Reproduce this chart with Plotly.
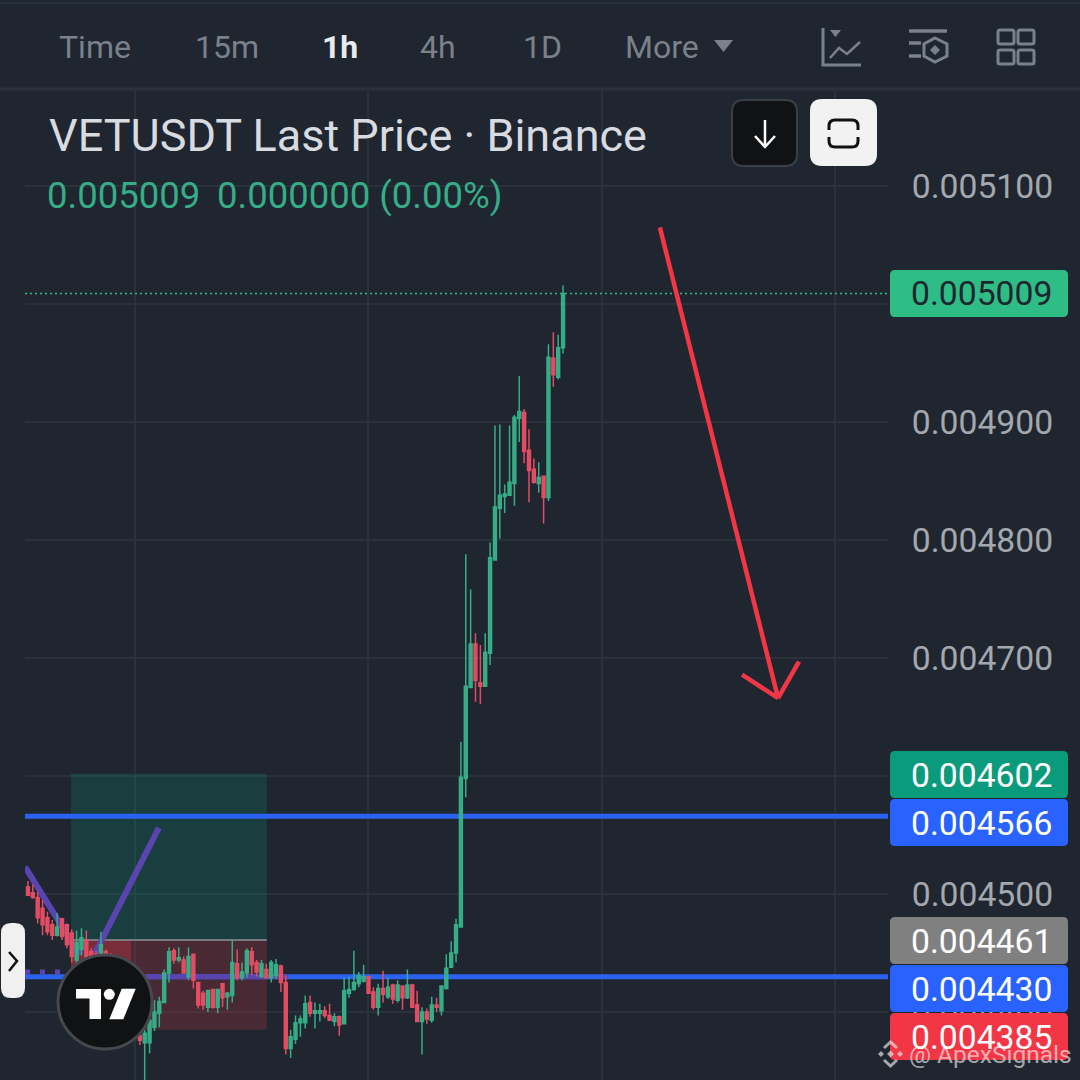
import numpy as np
import plotly.graph_objects as go

# prices in millionths (candles under the logo are estimates)
opens = [4506, 4501, 4497, 4488, 4480, 4474, 4465, 4479, 4474, 4467, 4444, 4453, 4461, 4451, 4449, 4440, 4451,
         4448, 4436, 4420, 4408, 4394, 4402, 4380, 4374, 4374, 4387, 4399, 4408, 4433, 4452, 4444, 4444, 4430,
         4449, 4425, 4416, 4404, 4419, 4404, 4424, 4413, 4414, 4441, 4429, 4433, 4451, 4442, 4430, 4436, 4429,
         4431, 4439, 4425, 4369, 4377, 4391, 4391, 4408, 4399, 4399, 4401, 4397, 4392, 4396, 4390, 4416, 4419,
         4424, 4426, 4430, 4417, 4404, 4420, 4413, 4423, 4410, 4422, 4412, 4423, 4406, 4392, 4400, 4393, 4406,
         4401, 4420, 4438, 4450, 4472, 4598, 4675, 4712, 4679, 4676, 4704, 4783, 4827, 4837, 4838, 4848, 4903,
         4908, 4876, 4860, 4848, 4854, 4836, 4954, 4938, 4963]
highs = [4511, 4508, 4502, 4495, 4485, 4478, 4484, 4480, 4475, 4470, 4469, 4471, 4469, 4454, 4452, 4468, 4453,
         4450, 4440, 4424, 4412, 4406, 4406, 4384, 4385, 4394, 4410, 4413, 4436, 4455, 4454, 4455, 4447, 4455,
         4449, 4425, 4418, 4419, 4419, 4419, 4424, 4417, 4461, 4453, 4442, 4454, 4455, 4444, 4444, 4441, 4444,
         4445, 4440, 4431, 4385, 4397, 4397, 4414, 4414, 4408, 4407, 4405, 4407, 4399, 4397, 4429, 4430, 4452,
         4434, 4440, 4431, 4421, 4424, 4435, 4429, 4424, 4427, 4422, 4436, 4424, 4418, 4404, 4403, 4413, 4412,
         4422, 4449, 4460, 4479, 4629, 4788, 4758, 4721, 4711, 4721, 4798, 4897, 4898, 4847, 4897, 4906, 4939,
         4911, 4894, 4869, 4866, 4854, 4966, 4976, 4974, 5016]
lows = [4499, 4496, 4475, 4465, 4465, 4461, 4464, 4461, 4454, 4442, 4440, 4448, 4442, 4444, 4430, 4436, 4440,
        4430, 4412, 4400, 4388, 4386, 4380, 4372, 4342, 4365, 4384, 4387, 4408, 4425, 4441, 4442, 4433, 4427,
        4420, 4403, 4402, 4400, 4403, 4399, 4404, 4402, 4408, 4427, 4427, 4429, 4431, 4430, 4429, 4429, 4425,
        4428, 4417, 4364, 4361, 4373, 4379, 4386, 4396, 4386, 4392, 4395, 4393, 4388, 4380, 4390, 4412, 4418,
        4421, 4425, 4416, 4402, 4397, 4408, 4411, 4407, 4408, 4402, 4411, 4404, 4392, 4364, 4390, 4391, 4400,
        4397, 4419, 4438, 4442, 4472, 4582, 4675, 4663, 4661, 4676, 4694, 4783, 4801, 4823, 4838, 4829, 4883,
        4865, 4832, 4848, 4840, 4814, 4833, 4930, 4936, 4958]
closes = [4499, 4497, 4480, 4474, 4468, 4465, 4472, 4464, 4457, 4447, 4459, 4463, 4447, 4447, 4436, 4457, 4448,
          4436, 4420, 4408, 4394, 4402, 4386, 4376, 4382, 4393, 4400, 4409, 4433, 4451, 4444, 4446, 4433, 4447,
          4427, 4406, 4406, 4418, 4404, 4419, 4412, 4416, 4442, 4429, 4434, 4452, 4440, 4434, 4441, 4429, 4442,
          4440, 4425, 4369, 4379, 4391, 4394, 4407, 4399, 4401, 4401, 4397, 4393, 4396, 4389, 4418, 4419, 4425,
          4431, 4430, 4416, 4404, 4420, 4415, 4421, 4411, 4423, 4412, 4423, 4404, 4392, 4400, 4394, 4406, 4404,
          4422, 4437, 4450, 4474, 4599, 4676, 4712, 4681, 4676, 4705, 4785, 4828, 4838, 4839, 4849, 4904, 4909,
          4875, 4859, 4849, 4853, 4836, 4955, 4940, 4963, 5009]

# axis ticks and tool levels
price_ticks = [0.0051, 0.0050, 0.0049, 0.0048, 0.0047, 0.0046, 0.0045, 0.0044]
time_grid = [22, 70, 118, 166]
blue_levels = [0.004566, 0.004430]
last_price = 0.005009
target_top = 0.004602
entry_price = 0.004461
stop_price = 0.004385
trade_start = 8.85
trade_end = 49.1
tabs = ["Time", "15m", "1h", "4h", "1D", "More"]
price_labels = ["0.005009", "0.004602", "0.004566", "0.004461", "0.004430", "0.004385"]

# drawn tools, (candle index, price)
arrow_x = [129.9, 154.2]
arrow_y = [0.005065, 0.004666]
arrow_head_x = [146.8, 154.2, 158.5]
arrow_head_y = [0.004686, 0.004666, 0.004697]
trend_down_x = [-0.61, 10.7]
trend_down_y = [0.004523, 0.004448]
trend_up_x = [13.8, 26.9]
trend_up_y = [0.004450, 0.004556]

X_RANGE = [-0.61, 176.8]
BG = "#1f2630"
GRID = "#2a313a"
GREEN = "#36ad86"
RED = "#e34d63"
BLUE = "#2b63f0"
PURPLE = "#5a45b0"
MUTED = "#7b818b"
FONT = "Roboto"

WIDTH = 1080


def px(x):
    return x / WIDTH


def py(y):
    return 1 - y / WIDTH


def path(points, close=False):
    s = "M " + " L ".join(f"{px(x)} {py(y)}" for x, y in points)
    return s + " Z" if close else s


def round_rect(x0, y0, x1, y1, r):
    return (f"M {px(x0 + r)} {py(y0)} L {px(x1 - r)} {py(y0)} Q {px(x1)} {py(y0)} {px(x1)} {py(y0 + r)} "
            f"L {px(x1)} {py(y1 - r)} Q {px(x1)} {py(y1)} {px(x1 - r)} {py(y1)} "
            f"L {px(x0 + r)} {py(y1)} Q {px(x0)} {py(y1)} {px(x0)} {py(y1 - r)} "
            f"L {px(x0)} {py(y0 + r)} Q {px(x0)} {py(y0)} {px(x0 + r)} {py(y0)} Z")


def paper_shape(d, fill="rgba(0,0,0,0)", line=None, w=0):
    return dict(type="path", xref="paper", yref="paper", path=d, fillcolor=fill, layer="above",
                line=dict(color=line or "rgba(0,0,0,0)", width=w))


def tool_line(x, y, color, w, dash="solid", layer="between"):
    return dict(type="line", xref="x", yref="y", x0=x[0], x1=x[1], y0=y[0], y1=y[1], layer=layer,
                line=dict(color=color, width=w, dash=dash))


def text(s, x, y, size, color, xanchor="left", weight=None):
    return dict(text=s, xref="paper", yref="paper", x=px(x), y=py(y), xanchor=xanchor, yanchor="middle",
                showarrow=False, borderpad=0, font=dict(family=FONT, size=size, color=color, weight=weight))


fig = go.Figure()

fig.add_trace(go.Candlestick(
    x=list(range(len(opens))),
    open=np.array(opens) / 1e6,
    high=np.array(highs) / 1e6,
    low=np.array(lows) / 1e6,
    close=np.array(closes) / 1e6,
    increasing=dict(line=dict(color=GREEN, width=1.5), fillcolor=GREEN),
    decreasing=dict(line=dict(color=RED, width=1.5), fillcolor=RED),
    whiskerwidth=0,
    showlegend=False,
))

shapes = []

# long position box
shapes.append(dict(type="rect", xref="x", yref="y", x0=trade_start, x1=trade_end, y0=entry_price, y1=target_top,
                   fillcolor="rgba(8,153,129,0.2)", line_width=0, layer="between"))
shapes.append(dict(type="rect", xref="x", yref="y", x0=trade_start, x1=trade_end, y0=stop_price, y1=entry_price,
                   fillcolor="rgba(242,54,69,0.2)", line_width=0, layer="between"))
shapes.append(dict(type="rect", xref="x", yref="y", x0=trade_start, x1=21.2, y0=blue_levels[1], y1=entry_price,
                   fillcolor="rgba(242,54,69,0.3)", line_width=0, layer="between"))
shapes.append(tool_line([trade_start, trade_end], [entry_price, entry_price], "#777b80", 2))

# price levels and tools
for level in blue_levels:
    shapes.append(tool_line(X_RANGE, [level, level], BLUE, 5))
shapes.append(tool_line([24, 53.5], [blue_levels[1], blue_levels[1]], PURPLE, 5))
shapes.append(tool_line([-0.61, 8.6], [0.004434, 0.004434], PURPLE, 5, dash="5px,10px"))
shapes.append(tool_line(trend_down_x, trend_down_y, PURPLE, 6))
shapes.append(tool_line(trend_up_x, trend_up_y, PURPLE, 6))
shapes.append(tool_line(X_RANGE, [last_price, last_price], "#2ebd85", 1.5, dash="2px,3px"))

# red arrow
shapes.append(tool_line(arrow_x, arrow_y, "#f23645", 4.5, layer="above"))
shapes.append(tool_line(arrow_head_x[:2], arrow_head_y[:2], "#f23645", 4.5, layer="above"))
shapes.append(tool_line(arrow_head_x[1:], arrow_head_y[1:], "#f23645", 4.5, layer="above"))

# top bar lines
shapes.append(paper_shape(path([(0, 3), (1080, 3)]), line="#333a44", w=1))
shapes.append(paper_shape(path([(0, 89), (1080, 89)]), line="#2a313b", w=3))

annotations = []

# tabs
tab_x = [58, 194, 321, 419, 522, 624]
for i, t in enumerate(tabs):
    active = t == "1h"
    annotations.append(text(t, tab_x[i], 47, 32, "#e8eaed" if active else MUTED, weight=700 if active else None))
shapes.append(paper_shape(path([(714, 40), (733, 40), (723.5, 52)], close=True), fill=MUTED))

# top bar icons
shapes.append(paper_shape(path([(823, 28), (823, 65), (861, 65)]), line=MUTED, w=3))
shapes.append(paper_shape(path([(830, 30), (841, 30), (835.5, 37)], close=True), fill=MUTED))
shapes.append(paper_shape(path([(830, 58), (839, 48), (847, 54), (860, 42)]), line=MUTED, w=2.5))
shapes.append(paper_shape(path([(909, 31), (947, 31)]), line=MUTED, w=3.5))
shapes.append(paper_shape(path([(909, 43), (921, 43)]), line=MUTED, w=3.5))
shapes.append(paper_shape(path([(909, 56), (921, 56)]), line=MUTED, w=3.5))
shapes.append(paper_shape(path([(935, 38), (947, 44), (947, 56), (935, 62), (924, 56), (924, 44)], close=True),
                          line=MUTED, w=3))
shapes.append(paper_shape(path([(935, 45), (940, 50), (935, 55), (930, 50)], close=True), fill=MUTED))
for x0, x1 in [(998, 1014), (1018, 1034)]:
    for y0, y1 in [(30, 44), (50, 64)]:
        shapes.append(paper_shape(round_rect(x0, y0, x1, y1, 2), line=MUTED, w=3))

# title
annotations.append(text("VETUSDT Last Price · Binance", 48, 135, 45, "#d8dbe0"))
annotations.append(text("0.005009", 46, 196, 36.5, GREEN))
annotations.append(text("0.000000 (0.00%)", 216, 196, 36.5, GREEN))

# buttons
shapes.append(paper_shape(round_rect(732, 100, 797, 166, 12), fill="#111214", line="#3a3f47", w=2))
shapes.append(paper_shape(path([(765, 120), (765, 146)]), line="#ffffff", w=2.5))
shapes.append(paper_shape(path([(755, 136), (765, 147), (775, 136)]), line="#ffffff", w=2.5))
shapes.append(paper_shape(round_rect(810, 99, 877, 166, 12), fill="#f2f2f2"))
shapes.append(paper_shape(f"M {px(829)} {py(130)} L {px(829)} {py(126)} Q {px(829)} {py(120)} {px(835)} {py(120)} "
                          f"L {px(852)} {py(120)} Q {px(858)} {py(120)} {px(858)} {py(126)} L {px(858)} {py(130)}",
                          line="#111111", w=3))
shapes.append(paper_shape(f"M {px(829)} {py(137)} L {px(829)} {py(141)} Q {px(829)} {py(147)} {px(835)} {py(147)} "
                          f"L {px(852)} {py(147)} Q {px(858)} {py(147)} {px(858)} {py(141)} L {px(858)} {py(137)}",
                          line="#111111", w=3))

# price labels
label_centers = [293.5, 774.5, 822.5, 940.5, 988.5, 1036.5]
label_fills = ["#2ebd85", "#0a9b7c", "#2962ff", "#808080", "#2962ff", "#f23645"]
label_text = ["#1f2630", "#ffffff", "#ffffff", "#ffffff", "#ffffff", "#ffffff"]
for s, c, f, tc in zip(price_labels, label_centers, label_fills, label_text):
    shapes.append(paper_shape(round_rect(890, c - 23.5, 1068, c + 23.5, 5), fill=f))
    annotations.append(text(s, 910, c + 0.5, 33.7, tc))

# side handle
shapes.append(paper_shape(round_rect(1, 923, 25, 998, 10), fill="#f0f0f0"))
shapes.append(paper_shape(path([(9, 952), (17, 961), (9, 971)]), line="#111111", w=2.5))

# logo
shapes.append(dict(type="circle", xref="paper", yref="paper", x0=px(58), x1=px(152), y0=py(1049), y1=py(955),
                   fillcolor="#111214", line=dict(color="#45484d", width=3), layer="above"))
shapes.append(paper_shape(path([(76, 989), (101, 989), (101, 1019), (89.5, 1019), (89.5, 998.5), (76, 998.5)],
                               close=True), fill="#ffffff"))
shapes.append(dict(type="circle", xref="paper", yref="paper", x0=px(103.8), x1=px(114.8), y0=py(999.8), y1=py(988.8),
                   fillcolor="#ffffff", line_width=0, layer="above"))
shapes.append(paper_shape(path([(121.7, 988.7), (135.7, 988.7), (123.3, 1019.3), (109.3, 1019.3)], close=True),
                          fill="#ffffff"))

# watermark
MARK = "rgba(255,255,255,0.6)"
for cx, cy, r in [(890.5, 1054, 3.5), (881, 1054, 3), (900, 1054, 3)]:
    shapes.append(paper_shape(path([(cx, cy - r), (cx + r, cy), (cx, cy + r), (cx - r, cy)], close=True), fill=MARK))
shapes.append(paper_shape(path([(884, 1048), (890.5, 1042), (897, 1048)]), line=MARK, w=3))
shapes.append(paper_shape(path([(884, 1060), (890.5, 1066), (897, 1060)]), line=MARK, w=3))
annotations.append(text("@ ApexSignals", 908, 1054, 24.5, MARK))

fig.update_layout(
    width=1080,
    height=1080,
    margin=dict(l=0, r=0, t=0, b=0),
    paper_bgcolor=BG,
    plot_bgcolor=BG,
    boxgap=0.15,
    showlegend=False,
    shapes=shapes,
    annotations=annotations,
    font=dict(family=FONT),
    xaxis=dict(
        domain=[px(25), px(888)],
        range=X_RANGE,
        tickvals=time_grid,
        showticklabels=False,
        showgrid=True,
        gridcolor=GRID,
        gridwidth=2,
        zeroline=False,
        rangeslider=dict(visible=False),
    ),
    yaxis=dict(
        domain=[0, 990 / 1080],
        range=[0.0043424, 0.0051814],
        side="right",
        tickvals=price_ticks,
        tickformat=".6f",
        ticks="outside",
        ticklen=16,
        tickcolor="rgba(0,0,0,0)",
        tickfont=dict(family=FONT, size=33.7, color="#a4a8ad"),
        showgrid=True,
        gridcolor=GRID,
        gridwidth=2,
        zeroline=False,
    ),
)

fig.write_html("out.html", config=dict(displayModeBar=False),
               post_script="document.body.style.margin='0';document.body.style.overflow='hidden';")
